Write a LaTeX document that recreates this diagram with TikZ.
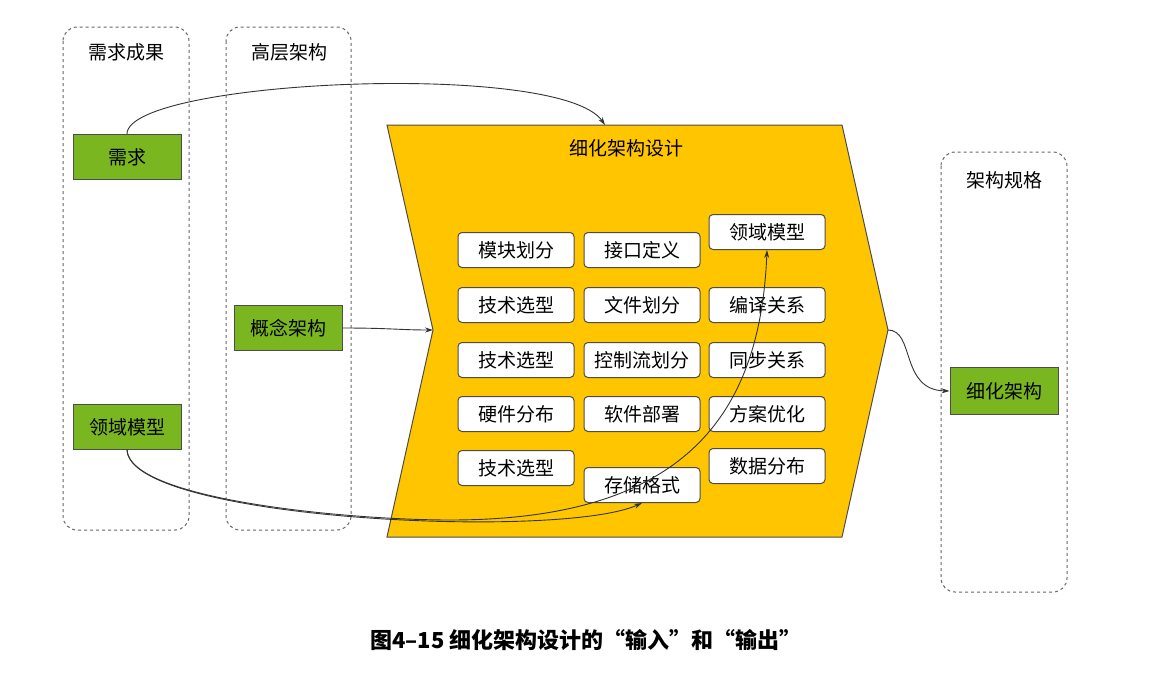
\documentclass[tikz,border=0pt]{standalone}
\usepackage{fontspec}
\setmainfont{Noto Sans CJK SC}
\usetikzlibrary{arrows.meta}
\begin{document}
\begin{tikzpicture}[x=1pt,y=-1pt,
  grp/.style={draw=gray!80!black,dashed,rounded corners=14pt,line width=1pt},
  gbox/.style={draw=black!70,fill={rgb,255:red,122;green,182;blue,31},line width=1pt,minimum width=108pt,minimum height=45pt,font=\fontsize{19}{21}\selectfont,inner sep=0pt},
  wbox/.style={draw=black!70,fill=white,rounded corners=4pt,line width=1pt,minimum width=116pt,minimum height=35pt,font=\fontsize{19}{21}\selectfont,inner sep=0pt},
  ttl/.style={font=\fontsize{19}{21}\selectfont},
  conn/.style={draw=black!80,line width=0.9pt,-{Stealth[length=8pt,width=5pt]}}]
\useasboundingbox (0,0) rectangle (1172,672);
\fill[white] (0,0) rectangle (1172,672);
% groups
\draw[grp] (63,27) rectangle (189,530);
\draw[grp] (226,27) rectangle (351,530);
\draw[grp] (941,152) rectangle (1067,592);
\node[ttl] (t1) at (126,52) {需求成果};
\node[ttl] (t2) at (289,52) {高层架构};
\node[ttl] (t3) at (1004,180) {架构规格};
% chevron
\draw[draw=black!70,line width=1pt,fill={rgb,255:red,255;green,198;blue,0}]
  (387,125) -- (842,125) -- (888,330) -- (842,537) -- (387,537) -- (433,330) -- cycle;
\coordinate (notch) at (433,330);
\coordinate (tip) at (888,330);
\coordinate (ctop) at (605,125);
\node[ttl] (ct) at (626,148) {细化架构设计};
% green
\node[gbox] (xq) at (127,157) {需求};
\node[gbox] (ly) at (127,427) {领域模型};
\node[gbox] (gn) at (288,328) {概念架构};
\node[gbox,minimum height=47pt] (xh) at (1004,391) {细化架构};
% white boxes
\node[wbox] (a1) at (516,250) {模块划分};
\node[wbox] (a2) at (516,305) {技术选型};
\node[wbox] (a3) at (516,360) {技术选型};
\node[wbox] (a4) at (516,414) {硬件分布};
\node[wbox] (a5) at (516,468) {技术选型};
\node[wbox] (b1) at (642,250) {接口定义};
\node[wbox] (b2) at (642,305) {文件划分};
\node[wbox] (b3) at (642,360) {控制流划分};
\node[wbox] (b4) at (642,414) {软件部署};
\node[wbox] (b5) at (642,485) {存储格式};
\node[wbox] (c1) at (767,232) {领域模型};
\node[wbox] (c2) at (767,305) {编译关系};
\node[wbox] (c3) at (767,360) {同步关系};
\node[wbox] (c4) at (767,414) {方案优化};
\node[wbox] (c5) at (767,466) {数据分布};
% connectors
\draw[conn] (xq.north) .. controls (127,80) and (560,60) .. (ctop);
\draw[conn] (gn.east) .. controls (390,328) and (400,330) .. (notch);
\draw[conn] (tip) .. controls (915,330) and (900,390) .. (xh.west);
\draw[conn] (ly.south) .. controls (130,520) and (560,540) .. (b5.south);
\draw[conn] (ly.south) .. controls (130,500) and (350,520) .. (450,520) .. controls (680,520) and (760,420) .. (c1.south);
% caption
\node[font=\fontsize{22}{24}\selectfont\bfseries] (cap) at (586,640) {图4–15 细化架构设计的“输入”和“输出”};
\end{tikzpicture}
\end{document}
